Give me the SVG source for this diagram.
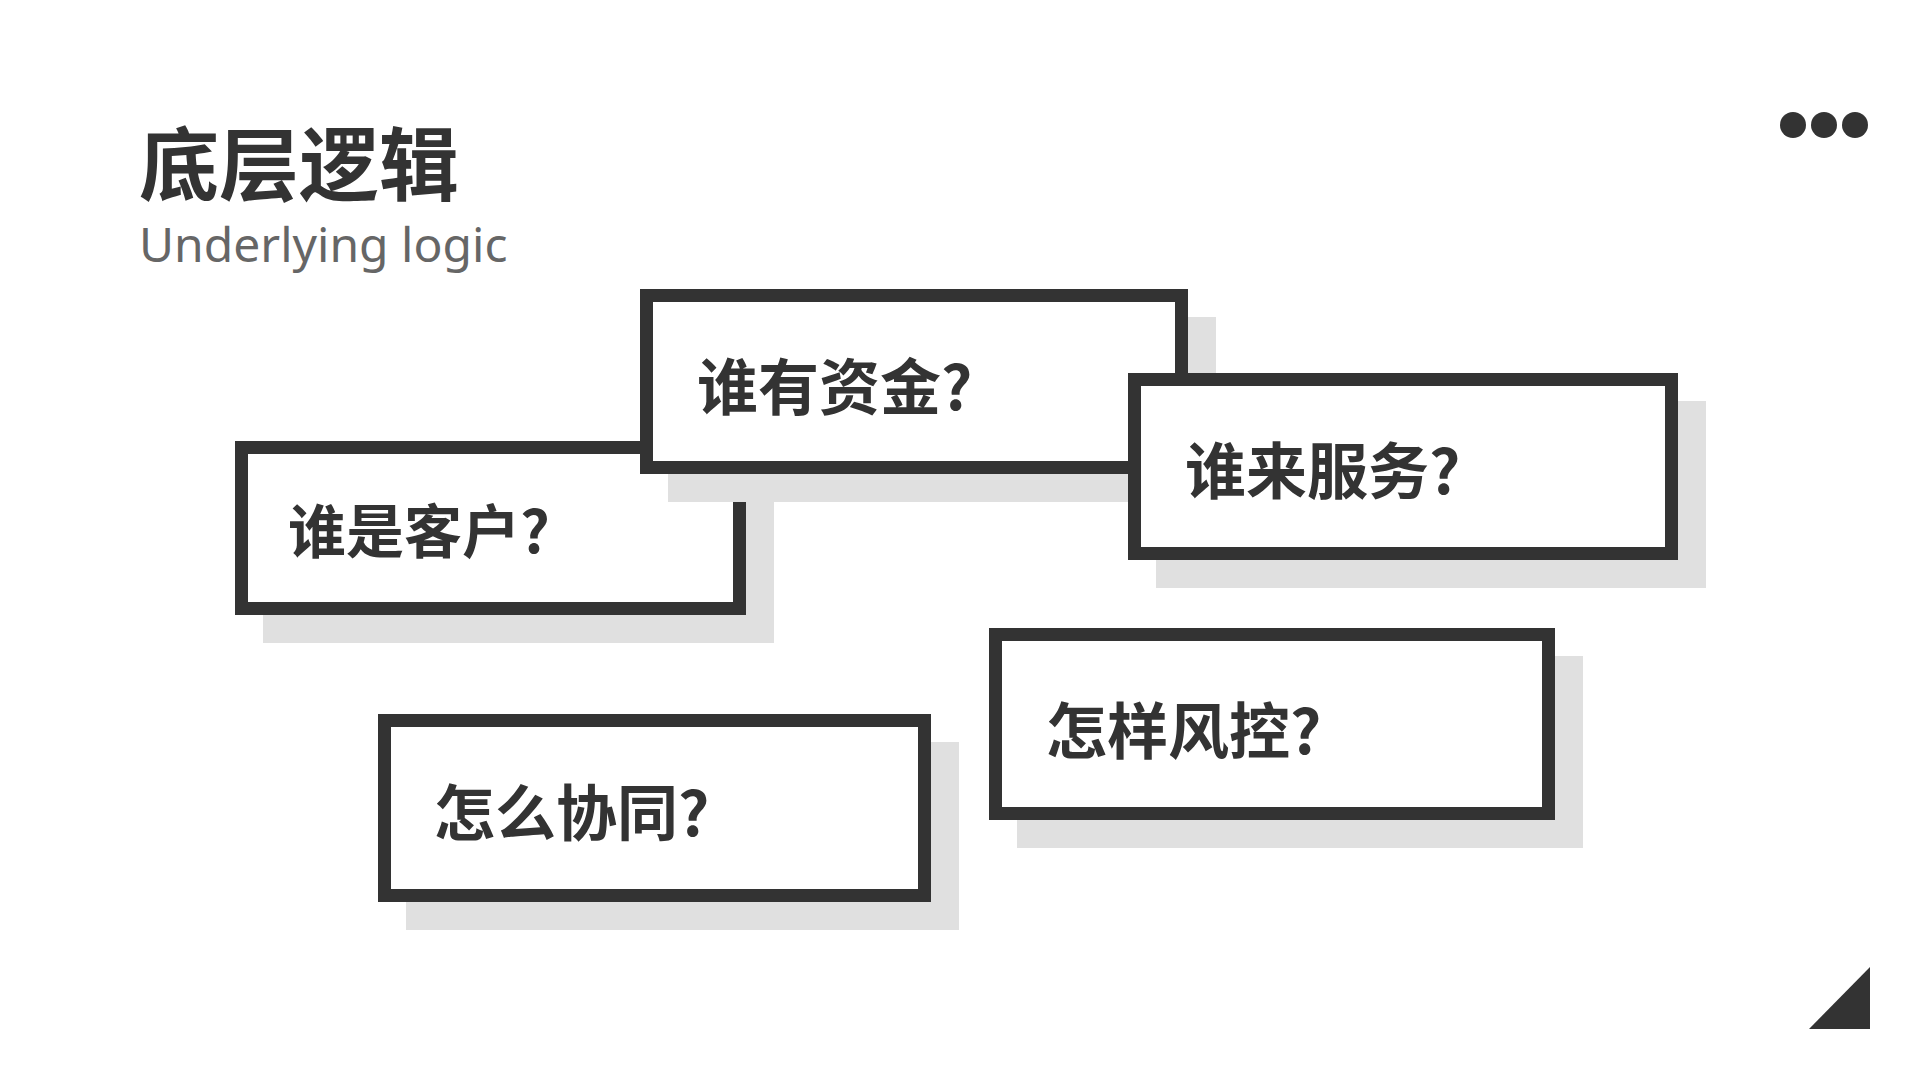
<svg xmlns="http://www.w3.org/2000/svg" width="1920" height="1080" viewBox="0 0 1920 1080">
<style>
.sh{fill:#e0e0e0}
.bx{fill:#fff;stroke:#333;stroke-width:13}
.t{font-family:"Noto Sans CJK SC","Noto Sans",sans-serif;font-weight:700;fill:#333}
</style>
<rect width="1920" height="1080" fill="#fff"/>
<text x="139" y="194" class="t" font-size="80">底层逻辑</text>
<text x="139" y="262" font-family="'Noto Sans',sans-serif" font-size="48" fill="#666">Underlying logic</text>
<g fill="#333"><circle cx="1793" cy="125" r="13"/><circle cx="1824" cy="125" r="13"/><circle cx="1855" cy="125" r="13"/></g>
<polygon points="1870,967 1870,1029 1809,1029" fill="#333"/>
<g id="connectors"/>
<g id="n1"><rect class="sh" x="263" y="469" width="511" height="174"/><rect class="bx" x="241.5" y="447.5" width="498" height="161"/><text x="288" y="553" class="t" font-size="58">谁是客户?</text></g>
<g id="n2"><rect class="sh" x="668" y="317" width="548" height="185"/><rect class="bx" x="646.5" y="295.5" width="535" height="172"/><text x="697" y="410" class="t" font-size="61">谁有资金?</text></g>
<g id="n3"><rect class="sh" x="1156" y="401" width="550" height="187"/><rect class="bx" x="1134.5" y="379.5" width="537" height="174"/><text x="1185" y="494" class="t" font-size="61">谁来服务?</text></g>
<g id="n4"><rect class="sh" x="1017" y="656" width="566" height="192"/><rect class="bx" x="995.5" y="634.5" width="553" height="179"/><text x="1046" y="754" class="t" font-size="61">怎样风控?</text></g>
<g id="n5"><rect class="sh" x="406" y="742" width="553" height="188"/><rect class="bx" x="384.5" y="720.5" width="540" height="175"/><text x="434" y="836" class="t" font-size="61">怎么协同?</text></g>
</svg>
